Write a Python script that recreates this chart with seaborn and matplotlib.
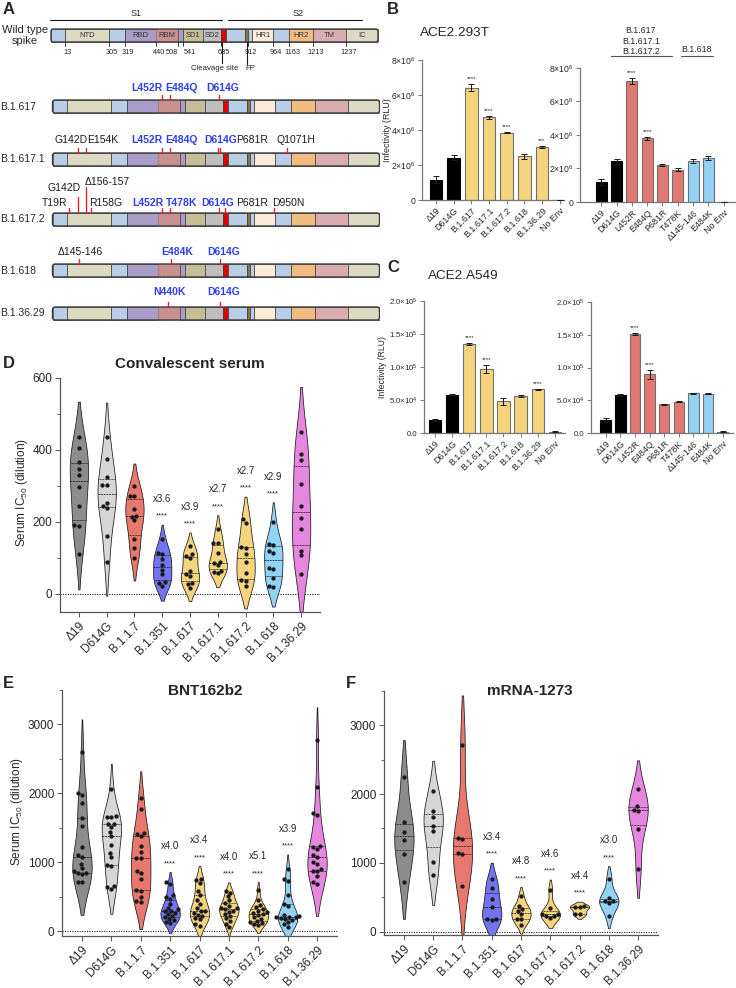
# %%
import numpy as np
import pandas as pd
import seaborn as sns
import matplotlib.pyplot as plt
from matplotlib.patches import Rectangle, FancyBboxPatch
from matplotlib.lines import Line2D

# %%
# panel A - spike schematic (schematic x units, one unit = one pixel)
seg_edges = [51, 65, 109, 125, 156, 178, 183, 203, 221, 226, 245, 248, 252, 273, 289, 313, 346, 378]
seg_colors = ['#b9cde6', '#dddac2', '#b9cde6', '#a99cc6', '#c99090', '#a99cc6', '#c5bd95', '#bebebe',
              '#e00000', '#b9cde6', '#857a3a', '#b9cde6', '#fdebd9', '#b9cde6', '#f1bb82', '#d9adb0', '#dcdac3']
domain_names = ['NTD', 'RBD', 'RBM', 'SD1', 'SD2', 'HR1', 'HR2', 'TM', 'IC']
domain_seg = [1, 3, 4, 6, 7, 12, 14, 15, 16]
wt_numbers = [13, 305, 319, 440, 508, 541, 685, 912, 964, 1163, 1213, 1237]
wt_number_edge = [1, 2, 3, 4, 5, 6, 8, 11, 13, 14, 15, 16]

variant_names = ['B.1.617', 'B.1.617.1', 'B.1.617.2', 'B.1.618', 'B.1.36.29']
variant_tops = [100, 153, 213, 264, 307]
# (label, tick x, label x, align, label rise, tick length, key mutation)
variant_muts = [
    [('L452R', 162, 147, 'center', 12, 5, True), ('E484Q', 170, 181, 'center', 12, 5, True),
     ('D614G', 219, 223, 'center', 12, 5, True)],
    [('G142D', 78, 71, 'center', 13, 5, False), ('E154K', 86, 103, 'center', 13, 5, False),
     ('L452R', 162, 147, 'center', 13, 5, True), ('E484Q', 170, 181, 'center', 13, 5, True),
     ('D614G', 218, 221, 'center', 13, 5, True), ('P681R', 220, 252, 'center', 13, 5, False),
     ('Q1071H', 287, 296, 'center', 13, 5, False)],
    [('T19R', 69, 55, 'center', 10, 5, False), ('G142D', 78, 64, 'center', 25, 16, False),
     ('Δ156-157', 86, 85, 'left', 31, 26, False), ('R158G', 91, 89, 'left', 10, 5, False),
     ('L452R', 162, 148, 'center', 10, 5, True), ('T478K', 170, 182, 'center', 10, 5, True),
     ('D614G', 219, 218, 'center', 10, 5, True), ('P681R', 225, 252, 'center', 10, 5, False),
     ('D950N', 274, 288, 'center', 10, 5, False)],
    [('Δ145-146', 79, 80, 'center', 12, 5, False), ('E484K', 171, 177, 'center', 12, 5, True),
     ('D614G', 220, 224, 'center', 12, 5, True)],
    [('N440K', 168, 169, 'center', 15, 5, True), ('D614G', 220, 224, 'center', 15, 5, True)],
]

# %%
# panels B and C - infectivity bars
bar_left_cats = ['Δ19', 'D614G', 'B.1.617', 'B.1.617.1', 'B.1.617.2', 'B.1.618', 'B.1.36.29', 'No Env']
bar_right_cats = ['Δ19', 'D614G', 'L452R', 'E484Q', 'P681R', 'T478K', 'Δ145-146', 'E484K', 'No Env']

b293_left = [1.15e6, 2.42e6, 6.42e6, 4.72e6, 3.84e6, 2.49e6, 3.02e6, 0.02e6]
b293_left_err = [0.2e6, 0.15e6, 0.22e6, 0.07e6, 0.04e6, 0.14e6, 0.05e6, 0.0]
b293_left_stars = ['', '', '****', '****', '****', '', '***', '']
b293_right = [1.18e6, 2.43e6, 7.22e6, 3.80e6, 2.20e6, 1.93e6, 2.45e6, 2.63e6, 0.02e6]
b293_right_err = [0.18e6, 0.15e6, 0.18e6, 0.10e6, 0.05e6, 0.08e6, 0.14e6, 0.10e6, 0.0]
b293_right_stars = ['', '', '****', '****', '', '', '', '', '']

a549_left = [20e3, 58e3, 135e3, 97.5e3, 48e3, 56e3, 66e3, 2e3]
a549_left_err = [1.5e3, 0.8e3, 1.5e3, 6e3, 5e3, 1.2e3, 0.8e3, 0.5e3]
a549_left_stars = ['', '', '****', '****', '', '', '****', '']
a549_right = [20e3, 58e3, 151e3, 89.5e3, 44e3, 48e3, 61e3, 60e3, 2e3]
a549_right_err = [2.5e3, 0.8e3, 2e3, 6.5e3, 1e3, 1e3, 0.8e3, 0.8e3, 0.5e3]
a549_right_stars = ['', '', '****', '****', '', '', '', '', '']

bar_left_colors = ['#000000', '#000000'] + ['#f5d47e'] * 5 + ['#7fb8e0']
bar_right_colors = ['#000000', '#000000'] + ['#e27872'] * 4 + ['#93d2f5'] * 2 + ['#7fb8e0']

# %%
# panels D, E, F - neutralisation (serum IC50)
groups = ['Δ19', 'D614G', 'B.1.1.7', 'B.1.351', 'B.1.617', 'B.1.617.1', 'B.1.617.2', 'B.1.618', 'B.1.36.29']
group_colors = ['#8c8c8c', '#d6d6d6', '#e8786e', '#7474f2', '#f5d47e', '#f5d47e', '#f5d47e', '#92d2f6', '#e586df']

conv = {
    'Δ19': [435, 405, 368, 348, 330, 298, 245, 192, 190, 112],
    'D614G': [437, 375, 326, 303, 303, 252, 245, 240, 162, 90],
    'B.1.1.7': [300, 273, 273, 237, 218, 215, 205, 152, 128, 100],
    'B.1.351': [152, 115, 112, 97, 80, 68, 55, 32, 30, 22],
    'B.1.617': [133, 110, 105, 100, 63, 55, 50, 30, 28, 18],
    'B.1.617.1': [180, 143, 142, 115, 90, 85, 80, 65, 62, 58],
    'B.1.617.2': [208, 198, 130, 128, 110, 90, 58, 38, 35, 22],
    'B.1.618': [200, 138, 137, 120, 115, 72, 70, 45, 22, 20],
    'B.1.36.29': [450, 388, 372, 305, 245, 210, 180, 120, 108, 55],
}
conv_folds = [None, None, None, 'x3.6', 'x3.9', 'x2.7', 'x2.7', 'x2.9', None]

bnt = {
    'Δ19': [2600, 2000, 1970, 1860, 1640, 1530, 1220, 1100, 1080, 980, 920, 870, 850, 840, 830, 720, 710],
    'D614G': [2070, 1670, 1660, 1650, 1560, 1550, 1510, 1440, 1380, 1250, 1130, 1070, 960, 940, 660, 640, 610],
    'B.1.1.7': [1930, 1780, 1420, 1410, 1380, 1230, 1150, 1060, 1060, 880, 840, 760, 600, 580, 500, 440, 420],
    'B.1.351': [710, 690, 520, 490, 470, 400, 340, 320, 300, 290, 270, 250, 220, 200, 180, 160, 130, 120],
    'B.1.617': [760, 740, 700, 580, 520, 450, 400, 330, 300, 290, 260, 240, 220, 190, 170, 100, 80],
    'B.1.617.1': [580, 560, 510, 450, 410, 370, 340, 330, 320, 300, 280, 250, 220, 190, 150, 110, 60],
    'B.1.617.2': [600, 450, 380, 350, 320, 300, 280, 260, 250, 230, 200, 180, 150, 130, 120, 100, 90],
    'B.1.618': [900, 760, 730, 520, 400, 370, 240, 220, 210, 200, 200, 190, 180, 160, 130, 100, 60],
    'B.1.36.29': [2780, 2090, 1720, 1690, 1230, 1220, 1190, 1100, 1070, 1000, 970, 900, 880, 870, 800, 720, 690],
}
bnt_folds = [None, None, None, 'x4.0', 'x3.4', 'x4.0', 'x5.1', 'x3.9', None]

mrna = {
    'Δ19': [2250, 1600, 1450, 1330, 1130, 720],
    'D614G': [2050, 1760, 1660, 1530, 1460, 1010, 820],
    'B.1.1.7': [2710, 1360, 1350, 1140, 1130, 670],
    'B.1.351': [760, 640, 480, 360, 190, 180, 170],
    'B.1.617': [520, 370, 330, 300, 250, 190, 180, 100],
    'B.1.617.1': [610, 350, 260, 250, 230, 220, 200],
    'B.1.617.2': [370, 360, 360, 260, 250],
    'B.1.618': [770, 490, 450, 450, 420, 230],
    'B.1.36.29': [2070, 1820, 1770, 1760, 1490, 910],
}
mrna_folds = [None, None, None, 'x3.4', 'x4.8', 'x4.6', 'x4.4', 'x3.0', None]

# %%
sns.set_theme(style='ticks')
plt.rcParams['font.family'] = ['Liberation Sans', 'DejaVu Sans']
plt.rcParams['mathtext.default'] = 'regular'

W, H = 736, 988
fig = plt.figure(figsize=(W / 100, H / 100), dpi=100)


def px_axes(x0, y0, x1, y1):
    return fig.add_axes([x0 / W, 1 - y1 / H, (x1 - x0) / W, (y1 - y0) / H])


def ftext(x, y, s, **kw):
    fig.text(x / W, 1 - y / H, s, **kw)


def fline(x0, x1, y, **kw):
    fig.add_artist(Line2D([x0 / W, x1 / W], [1 - y / H, 1 - y / H], **kw))


# %%
# A
axA = px_axes(0, 0, 380, 335)
axA.set_xlim(0, 380)
axA.set_ylim(335, 0)
axA.axis('off')
BH = 13


def draw_spike(ax, top, x_shift=0):
    edges = [e + x_shift for e in seg_edges]
    for i, (x0, x1, c) in enumerate(zip(edges[:-1], edges[1:], seg_colors)):
        if i == 4:
            ax.add_patch(Rectangle((x0, top), x1 - x0, BH, fc=c, ec='#b57b7b', lw=0.8, ls=(0, (2, 1))))
        else:
            ax.add_patch(Rectangle((x0, top), x1 - x0, BH, fc=c, ec='#3a3a3a', lw=0.5))
    ax.add_patch(FancyBboxPatch((edges[0], top), edges[-1] - edges[0], BH,
                                boxstyle='round,pad=0,rounding_size=2.5', fc='none', ec='#3a3a3a', lw=1.0))


wt_top = 29
draw_spike(axA, wt_top)
for name, si in zip(domain_names, domain_seg):
    axA.text((seg_edges[si] + seg_edges[si + 1]) / 2, wt_top + BH / 2, name, ha='center', va='center',
             fontsize=5.5, color='#333333')
axA.text(25, wt_top + BH / 2, 'Wild type\nspike', ha='center', va='center', fontsize=8.0, linespacing=1.1)

axA.plot([seg_edges[0] - 1, seg_edges[8] + 1], [20, 20], color='k', lw=0.8)
axA.plot([seg_edges[9] + 2, 362], [20, 20], color='k', lw=0.8)
axA.text(136, 13, 'S1', ha='center', va='center', fontsize=6.5)
axA.text(298, 13, 'S2', ha='center', va='center', fontsize=6.5)

for num, ei in zip(wt_numbers, wt_number_edge):
    x = seg_edges[ei]
    axA.plot([x, x], [wt_top + BH, wt_top + BH + 4], color='k', lw=0.6)
    if num == 508:
        axA.text(x, 53, str(num), ha='right', va='center', fontsize=5.3)
    elif num == 541:
        axA.text(x + 0.5, 53, str(num), ha='left', va='center', fontsize=5.3)
    else:
        axA.text(x + 3, 53, str(num), ha='center', va='center', fontsize=5.3)

cleave_x = seg_edges[8] + 1
fp_x = seg_edges[10] + 1.5
axA.plot([cleave_x, cleave_x], [wt_top + BH, 63], color='k', lw=0.8)
axA.text(cleave_x - 7, 69, 'Cleavage site', ha='center', va='center', fontsize=5.6)
axA.plot([fp_x, fp_x], [wt_top + BH, 64], color='k', lw=0.8)
axA.text(fp_x + 4, 69, 'FP', ha='center', va='center', fontsize=5.6)

for name, top, muts in zip(variant_names, variant_tops, variant_muts):
    draw_spike(axA, top, x_shift=1.5)
    axA.text(0, top + BH / 2, name, ha='left', va='center', fontsize=7.5)
    for lab, tx, lx, ha, rise, tl, key in muts:
        axA.plot([tx, tx], [top, top - tl], color='#e8202a', lw=1.0)
        axA.text(lx, top - rise, lab, ha=ha, va='center', fontsize=7.5,
                 color='#2d3ff0' if key else 'k', fontweight='bold' if key else 'normal')


# %%
# B and C
def bar_panel(ax, cats, vals, errs, stars, colors, ymax, yticks, yticklabels, xlim, ysize=6.2):
    sns.barplot(x=cats, y=vals, hue=cats, palette=colors, legend=False, saturation=1,
                width=0.72, linewidth=0.8, ax=ax)
    for p, c in zip(ax.patches, colors):
        p.set_edgecolor('#000000' if c == '#000000' else '#707070')
    ax.errorbar(np.arange(len(cats)), vals, yerr=errs, fmt='none', ecolor='k',
                elinewidth=0.7, capsize=2, capthick=0.7, zorder=3)
    for i, s in enumerate(stars):
        if s:
            ax.annotate(s, (i, vals[i] + errs[i]), xytext=(0, 2), textcoords='offset points',
                        ha='center', va='bottom', fontsize=4.5)
    ax.set_ylim(0, ymax)
    ax.set_xlim(*xlim)
    ax.set_yticks(yticks)
    ax.set_yticklabels(yticklabels)
    sns.despine(ax=ax)
    for sp in ('left', 'bottom'):
        ax.spines[sp].set_color('#777777')
        ax.spines[sp].set_linewidth(0.9)
    ax.tick_params(length=3, width=0.7, color='#777777', labelsize=ysize, pad=1.5)
    plt.setp(ax.get_xticklabels(), rotation=45, ha='right', rotation_mode='anchor', fontsize=6.4)
    ax.set_xlabel('')
    ax.set_ylabel('')


b_ticks = [0, 2e6, 4e6, 6e6, 8e6]
b_labels = ['0', r'$2{\times}10^{6}$', r'$4{\times}10^{6}$', r'$6{\times}10^{6}$', r'$8{\times}10^{6}$']
c_ticks = [0, 5e4, 1e5, 1.5e5, 2e5]
c_labels = ['0.0', r'$5.0{\times}10^{4}$', r'$1.0{\times}10^{5}$', r'$1.5{\times}10^{5}$', r'$2.0{\times}10^{5}$']

axB1 = px_axes(422, 60, 564, 200)
bar_panel(axB1, bar_left_cats, b293_left, b293_left_err, b293_left_stars, bar_left_colors,
          8e6, b_ticks, b_labels, (-0.8, 7.25))
axB2 = px_axes(580, 68, 735, 202)
bar_panel(axB2, bar_right_cats, b293_right, b293_right_err, b293_right_stars, bar_right_colors,
          8e6, b_ticks, b_labels, (-1.4, 8.75))
axC1 = px_axes(424, 301, 565, 433)
bar_panel(axC1, bar_left_cats, a549_left, a549_left_err, a549_left_stars, bar_left_colors,
          2e5, c_ticks, c_labels, (-0.65, 7.6), ysize=5.6)
axC2 = px_axes(591, 302, 733, 433)
bar_panel(axC2, bar_right_cats, a549_right, a549_right_err, a549_right_stars, bar_right_colors,
          2e5, c_ticks, c_labels, (-1.0, 8.7), ysize=5.6)

ftext(420, 33, 'ACE2.293T', ha='left', va='center', fontsize=9.7)
ftext(428, 276, 'ACE2.A549', ha='left', va='center', fontsize=9.7)
ftext(387, 130, 'Infectivity (RLU)', rotation=90, ha='center', va='center', fontsize=6.4)
ftext(383, 367, 'Infectivity (RLU)', rotation=90, ha='center', va='center', fontsize=6.2)
ftext(641, 41, 'B.1.617\nB.1.617.1\nB.1.617.2', ha='center', va='center', fontsize=6.3, linespacing=1.2)
fline(611, 672, 56, color='#555555', lw=0.8)
ftext(697, 50, 'B.1.618', ha='center', va='center', fontsize=6.3)
fline(681, 713, 56, color='#555555', lw=0.8)


# %%
# D, E, F
def violin_panel(ax, data, folds, ylim, major, minor):
    df = pd.DataFrame([(g, v) for g in groups for v in data[g]], columns=['group', 'value'])
    sns.violinplot(data=df, x='group', y='value', hue='group', order=groups, hue_order=groups,
                   palette=group_colors, legend=False, inner='quart', density_norm='width',
                   width=0.66, linewidth=0.55, linecolor='k', saturation=1, cut=1.5, ax=ax)
    tops = {}
    for coll in ax.collections:
        v = coll.get_paths()[0].vertices
        tops[int(round(v[:, 0].mean()))] = v[:, 1].max()
    sns.swarmplot(data=df, x='group', y='value', order=groups, color='k', size=3.1, ax=ax)
    ax.axhline(0, color='k', ls=(0, (1, 1.2)), lw=0.8, zorder=0.5)
    for i, f in enumerate(folds):
        if f:
            ax.annotate('****', (i, tops[i]), xytext=(0, 6), textcoords='offset points',
                        ha='center', va='center', fontsize=5.5)
            ax.annotate(f, (i, tops[i]), xytext=(0, 18.5), textcoords='offset points',
                        ha='center', va='center', fontsize=7)
    ax.set_ylim(*ylim)
    ax.set_xlim(-0.68, 8.68)
    ax.set_yticks(major)
    ax.set_yticks(minor, minor=True)
    sns.despine(ax=ax)
    for sp in ('left', 'bottom'):
        ax.spines[sp].set_color('#555555')
        ax.spines[sp].set_linewidth(0.9)
    ax.tick_params(axis='both', which='major', length=3.5, width=0.7, color='#555555', labelsize=8.5, pad=2)
    ax.tick_params(axis='y', which='minor', length=2, width=0.6, color='#555555')
    plt.setp(ax.get_xticklabels(), rotation=45, ha='right', rotation_mode='anchor', fontsize=8.5)
    ax.set_xlabel('')
    ax.set_ylabel('')


axD = px_axes(60, 378, 320, 612)
violin_panel(axD, conv, conv_folds, (-50, 600), [0, 200, 400, 600], [100, 300, 500])
axD.set_title('Convalescent serum', fontsize=11, fontweight='bold', pad=7)

axE = px_axes(62, 690, 337, 936)
violin_panel(axE, bnt, bnt_folds, (-70, 3500), [0, 1000, 2000, 3000], [500, 1500, 2500, 3500])
axF = px_axes(384, 691, 658, 935)
violin_panel(axF, mrna, mrna_folds, (-50, 3500), [0, 1000, 2000, 3000], [500, 1500, 2500, 3500])
ftext(205, 691, 'BNT162b2', ha='center', va='center', fontsize=11, fontweight='bold')
ftext(530, 691, 'mRNA-1273', ha='center', va='center', fontsize=11, fontweight='bold')

ftext(22, 493, r'Serum IC$_{50}$ (dilution)', rotation=90, ha='center', va='center', fontsize=8.5)
ftext(17, 812, r'Serum IC$_{50}$ (dilution)', rotation=90, ha='center', va='center', fontsize=8.5)

# panel letters
for lab, x, y in [('A', 3, 9), ('B', 387, 10), ('C', 387, 268), ('D', 3, 363), ('E', 3, 684), ('F', 346, 684)]:
    ftext(x, y, lab, ha='left', va='center', fontsize=12, fontweight='bold')

fig.savefig('out.png', dpi=100)
